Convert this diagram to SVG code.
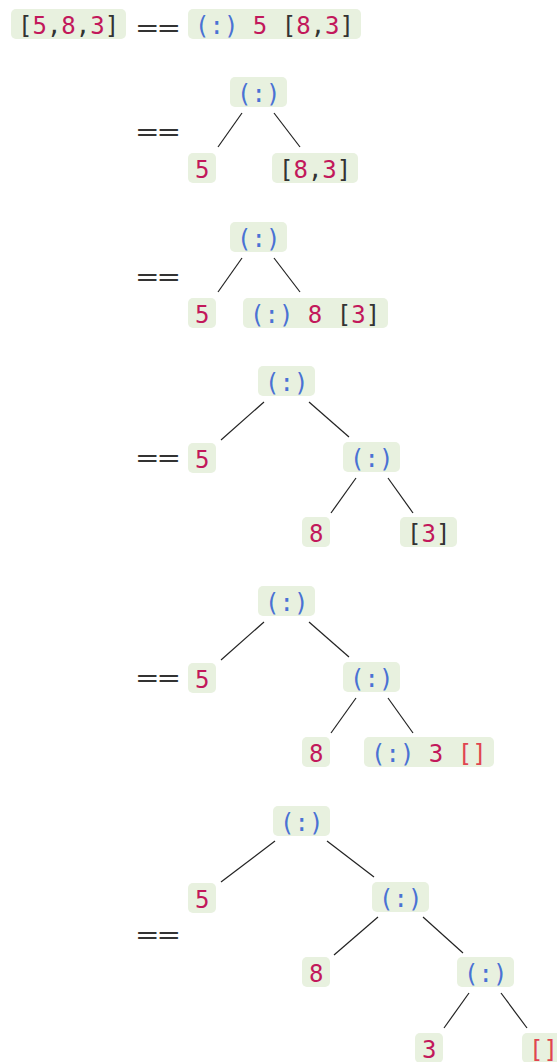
<svg xmlns="http://www.w3.org/2000/svg" width="557" height="1062" viewBox="0 0 557 1062">
<style>
.bx{fill:#e8f1df}
.t{font-family:"DejaVu Sans Mono","Liberation Mono",monospace;font-size:24px}
.eq{font-family:"DejaVu Sans","Liberation Sans",sans-serif;font-size:24px;fill:#333;letter-spacing:-2.5px}
.br{fill:#333}
.n{fill:#c2185b}
.c{fill:#4a72d4}
.nil{fill:#e04550}
.ln{stroke:#222;stroke-width:1.2;fill:none}
</style>
<rect width="557" height="1062" fill="#fff"/>

<g id="eqs">
<text class="eq" x="135" y="36" textLength="43" lengthAdjust="spacingAndGlyphs">==</text>
<text class="eq" x="135" y="140" textLength="43" lengthAdjust="spacingAndGlyphs">==</text>
<text class="eq" x="135" y="285" textLength="43" lengthAdjust="spacingAndGlyphs">==</text>
<text class="eq" x="135" y="466" textLength="43" lengthAdjust="spacingAndGlyphs">==</text>
<text class="eq" x="135" y="686" textLength="43" lengthAdjust="spacingAndGlyphs">==</text>
<text class="eq" x="135" y="943" textLength="43" lengthAdjust="spacingAndGlyphs">==</text>
</g>

<g id="connectors">
<line class="ln" x1="242" y1="113" x2="218" y2="147"/>
<line class="ln" x1="274" y1="113" x2="300" y2="147"/>
<line class="ln" x1="242" y1="258" x2="218" y2="292"/>
<line class="ln" x1="274" y1="258" x2="300" y2="292"/>
<line class="ln" x1="264" y1="402" x2="221" y2="440"/>
<line class="ln" x1="309" y1="402" x2="349" y2="437"/>
<line class="ln" x1="356" y1="478" x2="331" y2="513"/>
<line class="ln" x1="388" y1="478" x2="413" y2="513"/>
<line class="ln" x1="264" y1="622" x2="221" y2="660"/>
<line class="ln" x1="309" y1="622" x2="349" y2="657"/>
<line class="ln" x1="356" y1="698" x2="331" y2="733"/>
<line class="ln" x1="388" y1="698" x2="413" y2="733"/>
<line class="ln" x1="275" y1="841" x2="221" y2="882"/>
<line class="ln" x1="327" y1="841" x2="374" y2="877"/>
<line class="ln" x1="378" y1="917" x2="334" y2="955"/>
<line class="ln" x1="423" y1="917" x2="463" y2="953"/>
<line class="ln" x1="469" y1="993" x2="444" y2="1028"/>
<line class="ln" x1="501" y1="993" x2="527" y2="1028"/>
</g>

<!-- Row 1 -->
<g id="r1-list"><rect class="bx" x="11" y="9" width="115" height="30" rx="5"/><text class="t" x="18" y="34"><tspan class="br">[</tspan><tspan class="n">5</tspan><tspan class="br">,</tspan><tspan class="n">8</tspan><tspan class="br">,</tspan><tspan class="n">3</tspan><tspan class="br">]</tspan></text></g>
<g id="r1-cons"><rect class="bx" x="188" y="9" width="173" height="30" rx="5"/><text class="t" x="195" y="34" xml:space="preserve"><tspan class="c">(:)</tspan> <tspan class="n">5</tspan> <tspan class="br">[</tspan><tspan class="n">8</tspan><tspan class="br">,</tspan><tspan class="n">3</tspan><tspan class="br">]</tspan></text></g>

<!-- Row 2 -->
<g id="r2-cons"><rect class="bx" x="230" y="77" width="57" height="30" rx="5"/><text class="t c" x="237" y="102">(:)</text></g>
<g id="r2-5"><rect class="bx" x="188" y="153" width="28" height="30" rx="5"/><text class="t n" x="195" y="178">5</text></g>
<g id="r2-list"><rect class="bx" x="272" y="153" width="86" height="30" rx="5"/><text class="t" x="279" y="178"><tspan class="br">[</tspan><tspan class="n">8</tspan><tspan class="br">,</tspan><tspan class="n">3</tspan><tspan class="br">]</tspan></text></g>

<!-- Row 3 -->
<g id="r3-cons"><rect class="bx" x="230" y="222" width="57" height="30" rx="5"/><text class="t c" x="237" y="247">(:)</text></g>
<g id="r3-5"><rect class="bx" x="188" y="298" width="28" height="30" rx="5"/><text class="t n" x="195" y="323">5</text></g>
<g id="r3-app"><rect class="bx" x="243" y="298" width="145" height="30" rx="5"/><text class="t" x="250" y="323" xml:space="preserve"><tspan class="c">(:)</tspan> <tspan class="n">8</tspan> <tspan class="br">[</tspan><tspan class="n">3</tspan><tspan class="br">]</tspan></text></g>

<!-- Row 4 -->
<g id="r4-cons1"><rect class="bx" x="258" y="366" width="57" height="30" rx="5"/><text class="t c" x="265" y="391">(:)</text></g>
<g id="r4-5"><rect class="bx" x="188" y="443" width="28" height="30" rx="5"/><text class="t n" x="195" y="468">5</text></g>
<g id="r4-cons2"><rect class="bx" x="343" y="442" width="57" height="30" rx="5"/><text class="t c" x="350" y="467">(:)</text></g>
<g id="r4-8"><rect class="bx" x="302" y="517" width="28" height="30" rx="5"/><text class="t n" x="309" y="542">8</text></g>
<g id="r4-list"><rect class="bx" x="400" y="517" width="57" height="30" rx="5"/><text class="t" x="407" y="542"><tspan class="br">[</tspan><tspan class="n">3</tspan><tspan class="br">]</tspan></text></g>

<!-- Row 5 -->
<g id="r5-cons1"><rect class="bx" x="258" y="586" width="57" height="30" rx="5"/><text class="t c" x="265" y="611">(:)</text></g>
<g id="r5-5"><rect class="bx" x="188" y="663" width="28" height="30" rx="5"/><text class="t n" x="195" y="688">5</text></g>
<g id="r5-cons2"><rect class="bx" x="343" y="662" width="57" height="30" rx="5"/><text class="t c" x="350" y="687">(:)</text></g>
<g id="r5-8"><rect class="bx" x="302" y="737" width="28" height="30" rx="5"/><text class="t n" x="309" y="762">8</text></g>
<g id="r5-app"><rect class="bx" x="364" y="737" width="130" height="30" rx="5"/><text class="t" x="371" y="762" xml:space="preserve"><tspan class="c">(:)</tspan> <tspan class="n">3</tspan> <tspan class="nil">[]</tspan></text></g>

<!-- Row 6 -->
<g id="r6-cons1"><rect class="bx" x="273" y="806" width="57" height="30" rx="5"/><text class="t c" x="280" y="831">(:)</text></g>
<g id="r6-5"><rect class="bx" x="188" y="883" width="28" height="30" rx="5"/><text class="t n" x="195" y="908">5</text></g>
<g id="r6-cons2"><rect class="bx" x="372" y="882" width="57" height="30" rx="5"/><text class="t c" x="379" y="907">(:)</text></g>
<g id="r6-8"><rect class="bx" x="302" y="957" width="28" height="30" rx="5"/><text class="t n" x="309" y="982">8</text></g>
<g id="r6-cons3"><rect class="bx" x="457" y="957" width="57" height="30" rx="5"/><text class="t c" x="464" y="982">(:)</text></g>
<g id="r6-3"><rect class="bx" x="415" y="1033" width="28" height="30" rx="5"/><text class="t n" x="422" y="1058">3</text></g>
<g id="r6-nil"><rect class="bx" x="522" y="1033" width="43" height="30" rx="5"/><text class="t nil" x="529" y="1058">[]</text></g>
</svg>
